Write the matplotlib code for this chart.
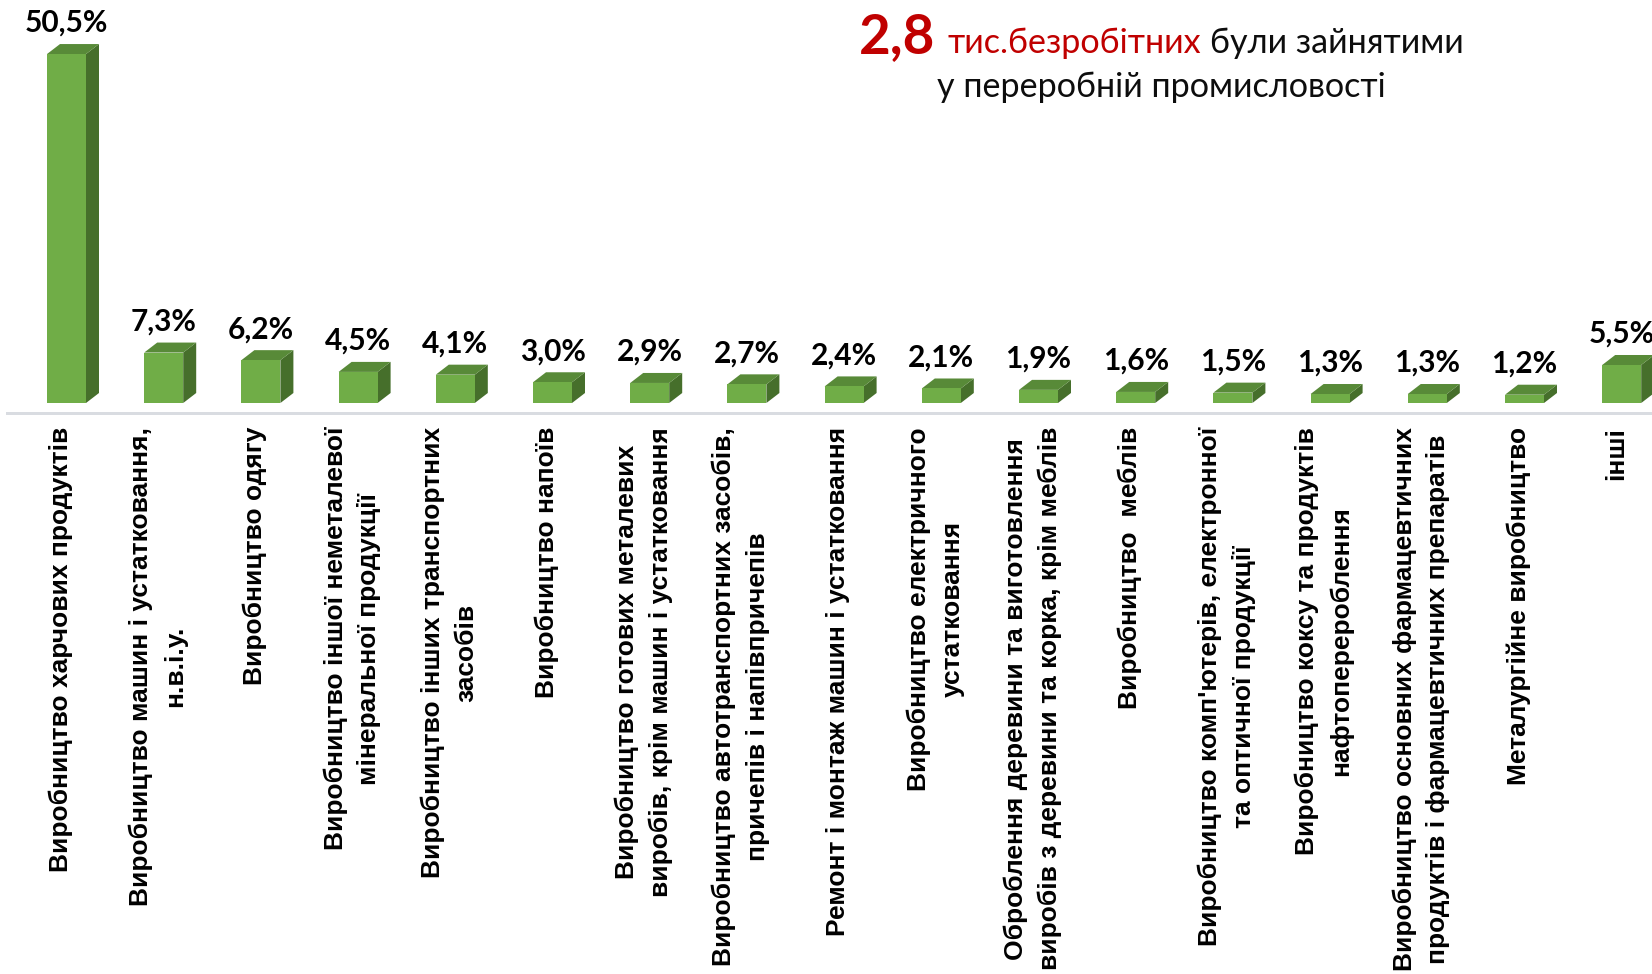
import numpy as np
import matplotlib
matplotlib.use('Agg')
import matplotlib.pyplot as plt
from matplotlib.patches import Polygon
from matplotlib.lines import Line2D

# ---------------- data ----------------
categories = [
    "Виробництво харчових продуктів",
    "Виробництво машин і устатковання,\nн.в.і.у.",
    "Виробництво одягу",
    "Виробництво іншої неметалевої\nмінеральної продукції",
    "Виробництво інших транспортних\nзасобів",
    "Виробництво напоїв",
    "Виробництво готових металевих\nвиробів, крім машин і устатковання",
    "Виробництво автотранспортних засобів,\nпричепів і напівпричепів",
    "Ремонт і монтаж машин і устатковання",
    "Виробництво електричного\nустатковання",
    "Оброблення деревини та виготовлення\nвиробів з деревини та корка, крім меблів",
    "Виробництво  меблів",
    "Виробництво комп'ютерів, електронної\nта оптичної продукції",
    "Виробництво коксу та продуктів\nнафтоперероблення",
    "Виробництво основних фармацевтичних\nпродуктів і фармацевтичних препаратів",
    "Металургійне виробництво",
    "інші",
]
values = [50.5, 7.3, 6.2, 4.5, 4.1, 3.0, 2.9, 2.7, 2.4, 2.1, 1.9, 1.6, 1.5, 1.3, 1.3, 1.2, 5.5]
value_labels = [f"{v:.1f}".replace('.', ',') + '%' for v in values]

headline_number = "2,8"
headline_red = "тис.безробітних"
headline_black = "були зайнятими"
headline_line2 = "у переробній промисловості"

# ---------------- style ----------------
W, H, DPI = 1652, 974, 100
FRONT = '#70AD47'
TOP = '#588A38'
SIDE = '#466F2B'
RED = '#C00000'
TFAM = ['Lato', 'Open Sans', 'DejaVu Sans']
LFAM = ['Liberation Sans', 'DejaVu Sans']
PT = 72.0 / DPI

fig = plt.figure(figsize=(W / DPI, H / DPI), dpi=DPI)
base_px = 403
ax = fig.add_axes([0, 1 - base_px / H, 1, base_px / H])
step_px = 97.2
x0_px = 66.5
xs = np.arange(len(values))
ax.set_xlim(-x0_px / step_px, (W - x0_px) / step_px)
ax.set_ylim(0, base_px / 6.91)
ax.axis('off')

bars = ax.bar(xs, values, width=39 / step_px, color=FRONT, edgecolor='none', zorder=3)

# 3D side and top faces
dx_px, dy_px = 13, 10
inv = ax.transData.inverted()
for b in bars:
    xl, xr = b.get_x(), b.get_x() + b.get_width()
    h = b.get_height()
    pl, pb = ax.transData.transform((xl, 0))
    pr, pt = ax.transData.transform((xr, h))
    side = [(pr, pb), (pr, pt), (pr + dx_px, pt + dy_px), (pr + dx_px, pb + dy_px)]
    topf = [(pl, pt), (pr, pt), (pr + dx_px, pt + dy_px), (pl + dx_px, pt + dy_px)]
    ax.add_patch(Polygon(inv.transform(side), closed=True, facecolor=SIDE,
                         edgecolor='none', zorder=2, clip_on=False))
    ax.add_patch(Polygon(inv.transform(topf), closed=True, facecolor=TOP,
                         edgecolor='none', zorder=2, clip_on=False))

# value labels
for x, v, lab in zip(xs, values, value_labels):
    ax.annotate(lab, xy=(x, v), xytext=(0, 22 * PT), textcoords='offset points',
                ha='center', va='baseline', fontsize=21.5, fontweight='bold',
                family=TFAM, color='black', annotation_clip=False)

# category labels
for x, cat in zip(xs, categories):
    ax.annotate(cat, xy=(x, 0), xytext=(-6 * PT, -24 * PT), textcoords='offset points',
                rotation=90, ha='center', va='top', multialignment='center',
                fontsize=19, fontweight='bold', family=LFAM, color='black',
                linespacing=1.5, annotation_clip=False)

# floor line
fig.add_artist(Line2D([7 / W, 1], [1 - 412.5 / H] * 2, transform=fig.transFigure,
                      color='#D9DCE1', lw=3 * PT))

# headline
t_num = fig.text(0, 0, headline_number, fontsize=40, fontweight='bold', color=RED,
                 family=TFAM, va='baseline', ha='left')
t_red = fig.text(0, 0, headline_red, fontsize=26, color=RED, family=TFAM,
                 va='baseline', ha='left')
t_blk = fig.text(0, 0, headline_black, fontsize=26, color='#0D0D0D', family=TFAM,
                 va='baseline', ha='left')
t_l2 = fig.text(0, 0, headline_line2, fontsize=26, color='#0D0D0D', family=TFAM,
                va='baseline', ha='center')
r = fig.canvas.get_renderer()


def wpx(t):
    return t.get_window_extent(renderer=r).width


s = 450 / wpx(t_l2)
for t in (t_red, t_blk, t_l2):
    t.set_fontsize(26 * s)
t_num.set_fontsize(40 * 76 / wpx(t_num))
w1, w2, w3 = wpx(t_num), wpx(t_red), wpx(t_blk)
gap1, gap2 = 13, 8
cx = 1161
start = cx - (w1 + gap1 + w2 + gap2 + w3) / 2
yb1 = 1 - 53 / H
t_num.set_position((start / W, yb1))
t_red.set_position(((start + w1 + gap1) / W, yb1))
t_blk.set_position(((start + w1 + gap1 + w2 + gap2) / W, yb1))
t_l2.set_position((cx / W, 1 - 97 / H))

fig.savefig('out.png', dpi=DPI, facecolor='white')
